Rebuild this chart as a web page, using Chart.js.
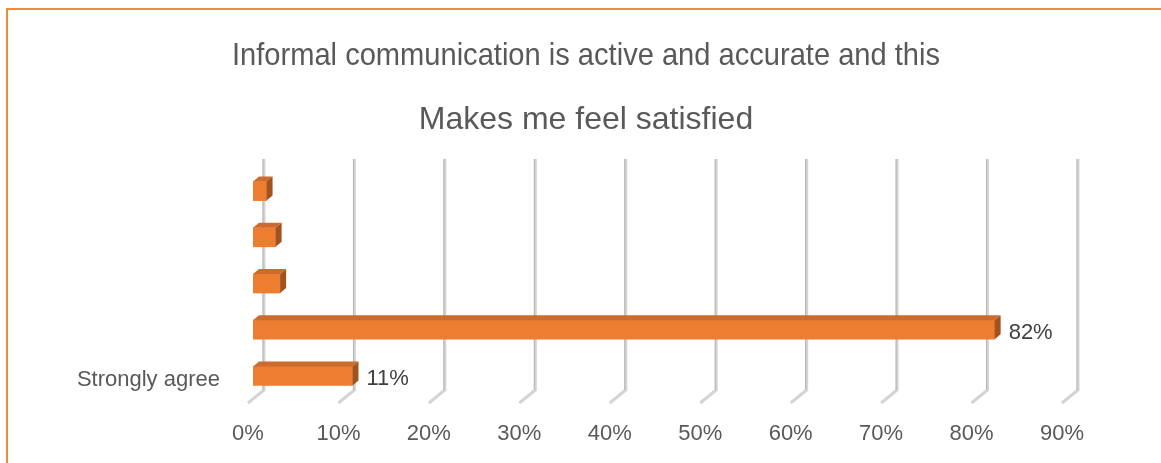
<!DOCTYPE html>
<html lang="en">
<head>
    <meta charset="UTF-8">
    <title>Informal communication</title>
    <style>
        body {
            margin: 0;
            background: #ffffff;
            overflow: hidden;
        }

        .frame {
            position: absolute;
            left: 6px;
            top: 8px;
            width: 2000px;
            height: 2000px;
            border-top: 2px solid #f08a42;
            border-left: 2px solid #f08a42;
        }

        .chart-box {
            position: relative;
            width: 1161px;
            height: 463px;
        }
    </style>
    <script src="https://cdn.jsdelivr.net/npm/chart.js"></script>
</head>
<body>
    <div class="frame"></div>
    <div class="chart-box">
        <canvas id="surveyChart"></canvas>
    </div>

    <script>
        // survey answers, top to bottom
        const categories = ['', '', '', '', 'Strongly agree'];
        const shares = [1.5, 2.5, 3, 82, 11];
        const showValue = [false, false, false, true, true];
        const titleLines = [
            'Informal communication is active and accurate and this',
            'Makes me feel satisfied'
        ];
        const axisMax = 90;

        const textGray = '#595959';
        const fontFamily = "'Liberation Sans', Arial, sans-serif";

        // depth of the bar blocks
        const barDx = 6, barDy = 5;

        // heading, first line squeezed to its box
        const titlePlugin = {
            id: 'twoLineTitle',
            afterDraw(chart) {
                const ctx = chart.ctx;
                ctx.save();
                ctx.fillStyle = textGray;
                ctx.font = '32px ' + fontFamily;
                ctx.textAlign = 'center';
                ctx.textBaseline = 'alphabetic';
                ctx.fillText(titleLines[0], 586, 65, 708);
                ctx.fillText(titleLines[1], 586, 129);
                ctx.restore();
            }
        };

        // back-wall gridlines bending forward onto the floor
        const wallGrid = {
            id: 'wallGrid',
            beforeDatasetsDraw(chart) {
                const ctx = chart.ctx;
                const xs = chart.scales.x;
                ctx.save();
                xs.ticks.forEach(t => {
                    const px = xs.getPixelForValue(t.value);
                    const back = px + 11, front = px - 5;
                    ctx.beginPath();
                    ctx.moveTo(back, 159);
                    ctx.lineTo(back, 390);
                    ctx.lineTo(front, 403);
                    ctx.lineWidth = 3;
                    ctx.strokeStyle = '#d4d4d4';
                    ctx.stroke();
                    ctx.beginPath();
                    ctx.moveTo(back - 1, 159);
                    ctx.lineTo(back - 1, 390);
                    ctx.lineWidth = 1;
                    ctx.strokeStyle = '#b4b4b4';
                    ctx.stroke();
                });
                ctx.restore();
            }
        };

        // top and side faces of each bar, then the value labels
        const barBlocks = {
            id: 'barBlocks',
            afterDatasetsDraw(chart) {
                const ctx = chart.ctx;
                const meta = chart.getDatasetMeta(0);
                ctx.save();
                meta.data.forEach((bar, i) => {
                    const p = bar.getProps(['x', 'y', 'base', 'height'], true);
                    const top = p.y - p.height / 2;
                    const bottom = p.y + p.height / 2;

                    ctx.beginPath();
                    ctx.moveTo(p.base, top);
                    ctx.lineTo(p.base + barDx, top - barDy);
                    ctx.lineTo(p.x + barDx, top - barDy);
                    ctx.lineTo(p.x, top);
                    ctx.closePath();
                    ctx.fillStyle = '#cc6b2c';
                    ctx.fill();

                    ctx.beginPath();
                    ctx.moveTo(p.x, top);
                    ctx.lineTo(p.x + barDx, top - barDy);
                    ctx.lineTo(p.x + barDx, bottom - barDy);
                    ctx.lineTo(p.x, bottom);
                    ctx.closePath();
                    ctx.fillStyle = '#a0531f';
                    ctx.fill();

                    if (showValue[i]) {
                        ctx.fillStyle = '#404040';
                        ctx.font = '22px ' + fontFamily;
                        ctx.textAlign = 'left';
                        ctx.textBaseline = 'alphabetic';
                        ctx.fillText(shares[i] + '%', p.x + 14, p.y + 9);
                    }
                });
                ctx.restore();
            }
        };

        const ctx = document.getElementById('surveyChart').getContext('2d');
        new Chart(ctx, {
            type: 'bar',
            data: {
                labels: categories,
                datasets: [{
                    data: shares,
                    backgroundColor: '#ed7d31',
                    borderWidth: 0,
                    barThickness: 19
                }]
            },
            options: {
                indexAxis: 'y',
                responsive: true,
                maintainAspectRatio: false,
                animation: false,
                layout: {
                    padding: { top: 168, right: 94, bottom: 0, left: 0 }
                },
                plugins: {
                    legend: { display: false },
                    title: { display: false },
                    tooltip: { enabled: false }
                },
                scales: {
                    x: {
                        min: 0,
                        max: axisMax,
                        grid: { display: false },
                        border: { display: false },
                        ticks: {
                            stepSize: 10,
                            padding: 14,
                            labelOffset: -5,
                            color: textGray,
                            font: { family: fontFamily, size: 22 },
                            callback: v => v + '%'
                        },
                        afterFit(scale) { scale.height = 64; }
                    },
                    y: {
                        grid: { display: false },
                        border: { display: false },
                        ticks: {
                            padding: 25,
                            labelOffset: 4,
                            color: textGray,
                            font: { family: fontFamily, size: 22 }
                        },
                        afterFit(scale) { scale.width = 253; }
                    }
                }
            },
            plugins: [titlePlugin, wallGrid, barBlocks]
        });
    </script>
</body>
</html>
